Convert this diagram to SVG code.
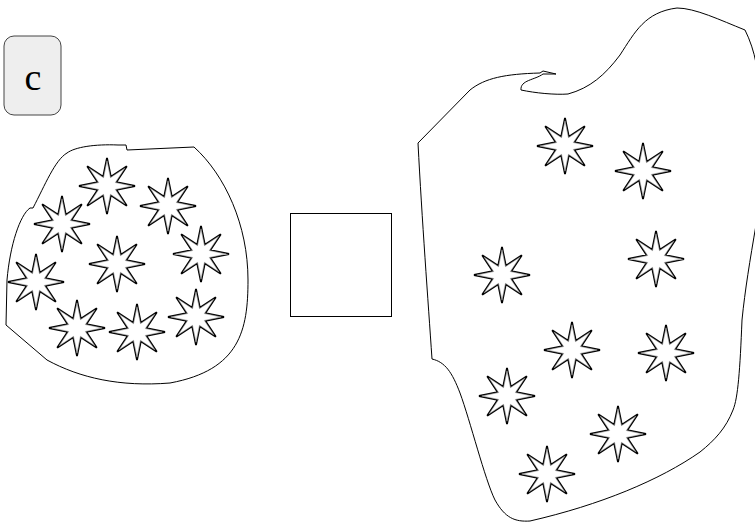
<svg xmlns="http://www.w3.org/2000/svg" xmlns:xlink="http://www.w3.org/1999/xlink" width="755" height="522" viewBox="0 0 755 522">
<style>
.blob{fill:#fff;stroke:#000;stroke-width:1}
.box{fill:#fff;stroke:#000;stroke-width:1}
.lbl{fill:#eeeeee;stroke:#444;stroke-width:1}
</style>
<defs>
<g id="star">
<polygon points="0,-28 3.83,-9.24 19.8,-19.8 9.24,-3.83 28,0 9.24,3.83 19.8,19.8 3.83,9.24 0,28 -3.83,9.24 -19.8,19.8 -9.24,3.83 -28,0 -9.24,-3.83 -19.8,-19.8 -3.83,-9.24" fill="#fff" stroke="#000" stroke-width="1.8" stroke-linejoin="miter"/>
<polygon transform="scale(0.9)" points="0,-28 3.83,-9.24 19.8,-19.8 9.24,-3.83 28,0 9.24,3.83 19.8,19.8 3.83,9.24 0,28 -3.83,9.24 -19.8,19.8 -9.24,3.83 -28,0 -9.24,-3.83 -19.8,-19.8 -3.83,-9.24" fill="#fff" stroke="#999" stroke-width="0.7"/>
</g>
</defs>
<g id="label-c">
<rect class="lbl" x="4" y="36" width="57" height="79" rx="10"/>
<text x="33" y="90" text-anchor="middle" font-family="Liberation Serif, DejaVu Serif, serif" font-size="38" fill="#000">c</text>
</g>
<g id="left-blob">
<path class="blob" d="M 118,145 L 126,145 L 127,150 L 194,147 C 225,175 248,225 248,280 C 248,330 240,370 170,383 C 120,387 80,378 47,360 L 6,325 L 7,280 C 10,245 20,215 30,208 L 33,208 C 45,185 55,160 67,153 C 75,147 95,144 118,145 Z"/>
</g>
<g id="middle-box">
<rect class="box" x="290.5" y="213.5" width="101" height="103"/>
</g>
<g id="right-blob">
<path class="blob" d="M 418,143 L 470,90 C 485,78 505,74 540,73 L 543,71 L 556,74 L 543,74 C 535,80 520,80 521,90 C 535,93 555,95 568,94 C 590,88 605,75 620,55 C 635,32 645,12 677,8 C 695,8 720,20 745,30 C 750,40 754,52 756,63 L 756,225 C 750,260 745,290 742,320 C 740,370 738,398 733,410 C 726,428 715,440 700,452 C 660,480 600,505 530,521 C 515,522 505,518 495,500 C 485,480 470,420 460,393 C 452,372 445,362 432,359 C 428,300 422,220 418,143 Z"/>
</g>
<g id="stars-left">
<g id="sl1"><use xlink:href="#star" x="107" y="186"/></g>
<g id="sl2"><use xlink:href="#star" x="168" y="206"/></g>
<g id="sl3"><use xlink:href="#star" x="62" y="224"/></g>
<g id="sl4"><use xlink:href="#star" x="201" y="254"/></g>
<g id="sl5"><use xlink:href="#star" x="117" y="264"/></g>
<g id="sl6"><use xlink:href="#star" x="36" y="282"/></g>
<g id="sl7"><use xlink:href="#star" x="77" y="328"/></g>
<g id="sl8"><use xlink:href="#star" x="137" y="332"/></g>
<g id="sl9"><use xlink:href="#star" x="196" y="317"/></g>
</g>
<g id="stars-right">
<g id="sr1"><use xlink:href="#star" x="565" y="146"/></g>
<g id="sr2"><use xlink:href="#star" x="643" y="171"/></g>
<g id="sr3"><use xlink:href="#star" x="656" y="259"/></g>
<g id="sr4"><use xlink:href="#star" x="502" y="275"/></g>
<g id="sr5"><use xlink:href="#star" x="572" y="350"/></g>
<g id="sr6"><use xlink:href="#star" x="666" y="353"/></g>
<g id="sr7"><use xlink:href="#star" x="507" y="396"/></g>
<g id="sr8"><use xlink:href="#star" x="618" y="434"/></g>
<g id="sr9"><use xlink:href="#star" x="547" y="474"/></g>
</g>
<g id="connectors"></g>
</svg>
